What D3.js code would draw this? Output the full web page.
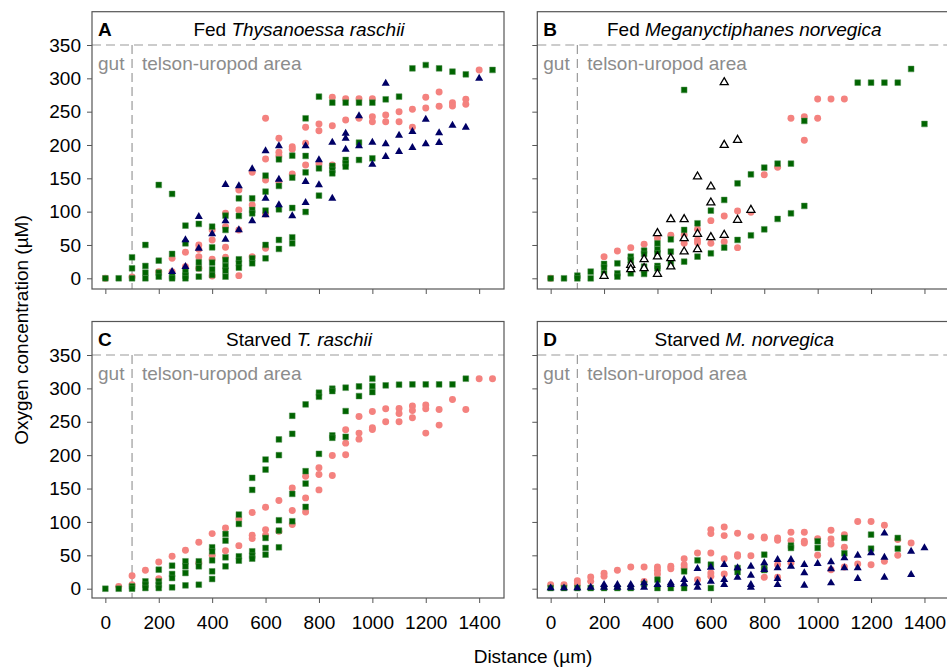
<!DOCTYPE html>
<html>
<head>
<meta charset="utf-8">
<script src="https://cdn.jsdelivr.net/npm/d3@7"></script>
<style>
  body { margin: 0; background: #fff; }
  text { font-family: "Liberation Sans", Arial, sans-serif; }
</style>
</head>
<body>
<svg id="chart" width="947" height="670"></svg>
<script>
// ---------------- DATA ----------------
const xTicks = [0, 200, 400, 600, 800, 1000, 1200, 1400];
const yTicks = [0, 50, 100, 150, 200, 250, 300, 350];
const gutBoundary = 100;
const surfaceLevel = 350;

// Panel A: Fed Thysanoessa raschii
const fedTrPink = [[0,0],[100,2],[200,10],[250,30],[250,10],[300,39],[300,17.5],[350,50],[350,43.5],[350,32.5],[350,15],[400,72.5],[400,57.5],[400,28.5],[400,3.5],[450,97.5],[450,77.5],[450,46.5],[450,31.5],[500,132.5],[500,102.5],[500,72.5],[500,4],[550,159],[550,110],[550,32.5],[600,240],[600,179],[600,147.5],[600,96.5],[600,45],[650,210],[650,189],[650,184],[650,145],[700,197.5],[700,193.5],[700,156.5],[750,226.5],[750,202.5],[750,170],[800,231.5],[800,221.5],[800,171.5],[850,271.5],[850,229],[850,170],[900,269.5],[900,237.5],[950,269.5],[950,240],[1000,269.5],[1000,242.5],[1000,235],[1050,245],[1050,235],[1100,250],[1100,235],[1150,253.5],[1150,226.5],[1200,271.5],[1200,255.5],[1250,279.5],[1250,258],[1300,263.5],[1300,258.5],[1350,268.5],[1350,261],[1400,312.5]];
const fedTrGreen = [[0,0],[50,0],[100,31.5],[100,15],[100,0],[150,50],[150,18.5],[150,8.5],[150,0],[200,140],[200,26.5],[200,8.5],[200,2.5],[250,126.5],[250,36.5],[250,2.5],[250,0],[300,79],[300,52.5],[300,10],[300,4],[300,0],[350,81.5],[350,24],[350,15],[350,2.5],[400,77.5],[400,46.5],[400,23.5],[400,13.5],[400,5],[450,94],[450,72.5],[450,27.5],[450,18.5],[450,11.5],[450,2.5],[500,120],[500,93.5],[500,28.5],[500,22.5],[500,16],[550,120],[550,102.5],[550,97.5],[550,30],[550,22.5],[600,154],[600,130],[600,101.5],[600,50],[600,30],[650,178.5],[650,138.5],[650,103.5],[650,57.5],[650,44],[700,184],[700,151],[700,105.5],[700,61.5],[700,52.5],[750,240],[750,183.5],[750,159],[750,99.5],[800,272.5],[800,165],[800,124],[850,263.5],[850,168.5],[850,162.5],[850,157.5],[900,263.5],[900,177.5],[900,172.5],[900,167.5],[950,263.5],[950,203.5],[950,177.5],[1000,263.5],[1000,180],[1050,268.5],[1100,272.5],[1150,315],[1200,320],[1250,315],[1300,310],[1350,306],[1450,312.5]];
const fedTrNavy = [[250,10],[300,57.5],[300,17.5],[350,92.5],[350,45],[400,66.5],[450,140.5],[450,86],[450,58.5],[500,138.5],[500,72.5],[550,164],[550,86],[600,191],[600,120],[600,95],[650,198.5],[650,148.5],[650,110],[700,93.5],[750,198.5],[750,145],[750,113.5],[800,177.5],[800,140],[850,204],[850,120],[900,217.5],[900,210],[900,193.5],[950,243.5],[950,198.5],[1000,204],[1000,171],[1050,292.5],[1050,201.5],[1050,182.5],[1100,214.5],[1100,190],[1150,220],[1150,196],[1200,238.5],[1200,201.5],[1250,218],[1250,203.5],[1300,229.5],[1350,226.5],[1400,300]];

// Panel B: Fed Meganyctiphanes norvegica
const fedMnPink = [[0,0],[200,32.5],[250,41],[300,46],[350,51],[400,60],[450,64.5],[500,65],[500,52.5],[550,73.5],[550,57.5],[550,53.5],[600,86.5],[600,52.5],[650,93.5],[650,55],[700,101],[700,46],[750,99],[800,155.5],[850,166.5],[900,240],[950,242.5],[950,207],[1000,269],[1000,240],[1050,269],[1100,269]];
const fedMnGreen = [[0,0],[50,0],[100,4],[100,0],[150,10],[150,0],[200,21.5],[200,16.5],[200,7.5],[250,22.5],[250,7.5],[250,2.5],[300,32.5],[300,27.5],[300,20],[300,15],[300,7.5],[350,41.5],[350,36.5],[350,17.5],[350,12.5],[350,6.5],[400,52.5],[400,43.5],[400,37.5],[400,18.5],[400,15],[450,58.5],[450,40],[450,22.5],[500,282.5],[500,72.5],[500,25],[550,82.5],[550,32.5],[600,101.5],[600,37.5],[650,117.5],[650,46],[700,142.5],[700,57.5],[750,156],[750,64.5],[800,166],[800,73.5],[850,172],[850,89],[900,172],[900,97.5],[950,236],[950,108.5],[1150,293.5],[1200,293.5],[1250,293.5],[1300,293.5],[1350,314],[1400,231.5]];
const fedMnOpen = [[200,3.5],[300,20],[300,13.5],[350,28.5],[350,15],[400,67.5],[400,32.5],[400,6.5],[450,88.5],[450,30],[450,17.5],[500,88.5],[500,60],[500,40],[550,152.5],[550,66.5],[550,43.5],[600,137.5],[600,113.5],[600,61.5],[650,294],[650,200],[650,65],[700,207.5],[700,87.5],[750,102.5]];

// Panel C: Starved T. raschii
const stTrPink = [[50,3.5],[100,19.5],[100,6],[150,27.5],[200,40],[200,15],[250,48.5],[300,57.5],[350,69.5],[350,38.5],[400,82.5],[400,50],[450,91],[450,57],[500,104.5],[500,64.5],[550,114],[550,80],[550,75],[600,122],[600,88.5],[600,80],[650,132],[650,86],[700,151],[700,117],[700,96],[750,168.5],[750,136],[750,115],[800,181],[800,171],[800,148],[850,199.5],[850,169.5],[900,238],[900,218],[900,200.5],[950,258],[950,233],[950,224],[1000,265.5],[1000,241],[1000,238.5],[1050,269.5],[1050,250],[1100,270],[1100,262.5],[1100,250],[1150,273.5],[1150,267],[1150,256],[1200,275],[1200,269.5],[1200,233],[1250,268.5],[1250,245],[1300,283.5],[1350,268.5],[1400,314.5],[1450,314.5]];
const stTrGreen = [[0,0],[50,0],[100,3.5],[100,0],[150,11],[150,6],[150,1],[200,28.5],[200,11],[200,6],[200,1],[250,34.5],[250,22],[250,16],[250,2],[300,41],[300,33.5],[300,23.5],[300,5],[350,41],[350,33.5],[350,6],[400,62],[400,56],[400,42.5],[400,26],[400,14.5],[450,82],[450,72],[450,47],[450,33.5],[500,111],[500,97],[500,48.5],[500,42],[550,166],[550,148],[550,56],[550,49.5],[550,45],[600,193.5],[600,178.5],[600,76],[600,61],[600,51],[650,223.5],[650,200],[650,102.5],[650,87],[650,62],[700,259],[700,232],[700,142],[700,101],[750,276],[750,176],[750,157.5],[750,122.5],[800,293.5],[800,287.5],[800,202],[850,299.5],[850,296],[850,229.5],[850,226],[900,301],[900,266],[900,227.5],[950,303],[950,288.5],[1000,314.5],[1000,303.5],[1000,294.5],[1050,304.5],[1100,305.5],[1150,306],[1200,306],[1250,306],[1300,306],[1350,314.5]];

// Panel D: Starved M. norvegica
const stMnPink = [[0,6],[50,6],[100,12],[100,7],[150,17.5],[150,11],[200,23],[200,18.5],[250,27.5],[300,32.5],[350,32.5],[350,11],[400,32.5],[400,27.5],[400,22],[450,33.5],[450,30],[500,45],[500,36],[500,31],[550,53.5],[550,13.5],[600,88.5],[600,82.5],[600,53.5],[600,23.5],[600,18.5],[650,92.5],[650,79.5],[650,45],[650,22],[700,83],[700,51],[700,48.5],[750,78],[750,49.5],[800,77.5],[800,76],[800,17],[850,76],[850,72.5],[850,36],[850,17],[900,84.5],[900,72],[900,38.5],[950,84.5],[950,71],[950,68.5],[1000,75],[1000,50],[1050,87.5],[1050,74.5],[1050,67],[1050,28.5],[1100,81],[1100,62],[1100,32.5],[1150,100.5],[1150,37],[1200,100.5],[1200,36],[1250,95],[1250,41],[1300,73.5],[1300,50],[1350,68.5]];
const stMnGreen = [[0,1],[50,1],[100,1],[150,1],[200,1],[250,1],[300,1],[350,7],[400,13.5],[400,1],[450,1],[500,26],[500,1],[550,42.5],[600,36],[600,1],[700,31],[700,25],[800,51],[800,31],[800,28],[900,64.5],[900,61],[1000,71],[1000,61],[1100,76],[1100,53],[1200,81],[1200,60],[1300,76],[1300,60]];
const stMnNavy = [[0,1],[50,1],[100,1],[150,2],[200,6],[200,2],[250,6],[250,2],[300,6],[300,2],[350,8.5],[350,2],[400,6],[450,8.5],[450,6],[500,13.5],[500,7],[550,30],[550,8.5],[550,2],[600,32],[600,11],[650,36],[650,13.5],[650,6],[700,31],[700,17],[750,33.5],[750,20],[750,6],[750,2],[800,38.5],[800,28.5],[850,43.5],[850,31],[850,15],[850,6],[900,43.5],[900,33.5],[950,36],[950,23.5],[950,5],[1000,37.5],[1050,40],[1050,29.5],[1050,8.5],[1100,46],[1100,31],[1150,50],[1150,31],[1150,15],[1200,53.5],[1250,83],[1250,47],[1250,17],[1350,56],[1350,21],[1400,61]];

// ---------------- LAYOUT / STYLE ----------------
const svg = d3.select("#chart");
const FONT = 19;
const panelW = 412;
const markStyles = {
  pink:  { type: "circle", fill: "#F4827F" },
  green: { type: "square", fill: "#006400" },
  navy:  { type: "triangle", fill: "#000066" },
  open:  { type: "opentri", fill: "#ffffff" }
};

const panels = [
  { letter: "A", left: 92,    top: 11.7,  bottom: 289, y0: 278.3, y350: 45,
    normal: "Fed ", italic: "Thysanoessa raschii", yLabels: true, xLabels: false,
    series: [["pink", fedTrPink], ["green", fedTrGreen], ["navy", fedTrNavy]] },
  { letter: "B", left: 537.3, top: 11.7,  bottom: 289, y0: 278.3, y350: 45,
    normal: "Fed ", italic: "Meganyctiphanes norvegica", yLabels: false, xLabels: false,
    series: [["pink", fedMnPink], ["green", fedMnGreen], ["open", fedMnOpen]] },
  { letter: "C", left: 92,    top: 321.5, bottom: 598, y0: 588.7, y350: 355,
    normal: "Starved ", italic: "T. raschii", yLabels: true, xLabels: true,
    series: [["pink", stTrPink], ["green", stTrGreen]] },
  { letter: "D", left: 537.3, top: 321.5, bottom: 598, y0: 588.7, y350: 355,
    normal: "Starved ", italic: "M. norvegica", yLabels: false, xLabels: true,
    series: [["pink", stMnPink], ["green", stMnGreen], ["navy", stMnNavy]] }
];

panels.forEach(p => {
  const x = d3.scaleLinear().domain([-50, 1493]).range([p.left, p.left + panelW]);
  const y = d3.scaleLinear().domain([0, 350]).range([p.y0, p.y350]);
  const g = svg.append("g");

  // dashed reference lines
  g.append("line")
    .attr("x1", p.left).attr("x2", p.left + panelW)
    .attr("y1", y(surfaceLevel)).attr("y2", y(surfaceLevel))
    .attr("stroke", "#9a9a9a").attr("stroke-width", 1.2).attr("stroke-dasharray", "9,5");
  g.append("line")
    .attr("x1", x(gutBoundary)).attr("x2", x(gutBoundary))
    .attr("y1", y(surfaceLevel)).attr("y2", p.bottom)
    .attr("stroke", "#9a9a9a").attr("stroke-width", 1.2).attr("stroke-dasharray", "9,5");

  // region labels
  g.append("text").attr("x", p.left + 6).attr("y", y(surfaceLevel) + 25)
    .attr("font-size", FONT).attr("fill", "#8c8c8c").text("gut");
  g.append("text").attr("x", p.left + 50).attr("y", y(surfaceLevel) + 25)
    .attr("font-size", FONT).attr("fill", "#8c8c8c").text("telson-uropod area");

  // points
  const clipId = "clip" + p.letter;
  svg.append("clipPath").attr("id", clipId).append("rect")
    .attr("x", p.left).attr("y", p.top).attr("width", panelW).attr("height", p.bottom - p.top);
  const pts = g.append("g").attr("clip-path", `url(#${clipId})`);
  p.series.forEach(([key, data]) => {
    const st = markStyles[key];
    const sel = pts.append("g").selectAll("path").data(data).join("path")
      .attr("transform", d => `translate(${x(d[0])},${y(d[1])})`);
    if (st.type === "circle") {
      sel.attr("d", d3.symbol(d3.symbolCircle, 38)()).attr("fill", st.fill);
    } else if (st.type === "square") {
      sel.attr("d", d3.symbol(d3.symbolSquare, 33)()).attr("fill", st.fill)
        .attr("stroke", "#4c8c4c").attr("stroke-width", 0.5);
    } else if (st.type === "triangle") {
      sel.attr("d", d3.symbol(d3.symbolTriangle, 28)()).attr("fill", st.fill);
    } else {
      sel.attr("d", d3.symbol(d3.symbolTriangle, 28)()).attr("fill", st.fill)
        .attr("stroke", "#000").attr("stroke-width", 1.3);
    }
  });

  // frame
  g.append("rect").attr("x", p.left).attr("y", p.top)
    .attr("width", panelW).attr("height", p.bottom - p.top)
    .attr("fill", "none").attr("stroke", "#555").attr("stroke-width", 1.2);

  // title
  g.append("text").attr("x", p.left + 6).attr("y", p.top + 24.5)
    .attr("font-size", FONT).attr("font-weight", "bold").attr("fill", "#000").text(p.letter);
  const t = g.append("text").attr("x", p.left + panelW / 2 + 1).attr("y", p.top + 24.5)
    .attr("font-size", FONT).attr("text-anchor", "middle").attr("fill", "#000");
  t.append("tspan").text(p.normal);
  t.append("tspan").attr("font-style", "italic").text(p.italic);

  // y axis
  const yAxis = d3.axisLeft(y).tickValues(yTicks).tickSize(5).tickPadding(6)
    .tickFormat(p.yLabels ? d3.format("d") : () => "");
  const ya = g.append("g").attr("transform", `translate(${p.left},0)`).call(yAxis);
  ya.select(".domain").remove();
  ya.selectAll(".tick line").attr("stroke", "#555");
  ya.selectAll(".tick text").attr("font-size", FONT).attr("fill", "#000")
    .attr("font-family", "Liberation Sans, Arial, sans-serif");

  // x axis
  const xAxis = d3.axisBottom(x).tickValues(xTicks).tickSize(5).tickPadding(13)
    .tickFormat(p.xLabels ? d3.format("d") : () => "");
  const xa = g.append("g").attr("transform", `translate(0,${p.bottom})`).call(xAxis);
  xa.select(".domain").remove();
  xa.selectAll(".tick line").attr("stroke", "#555");
  xa.selectAll(".tick text").attr("font-size", FONT).attr("fill", "#000")
    .attr("font-family", "Liberation Sans, Arial, sans-serif");
});

// axis titles
svg.append("text").attr("x", 533).attr("y", 663).attr("text-anchor", "middle")
  .attr("font-size", FONT).attr("fill", "#000").text("Distance (µm)");
svg.append("text").attr("transform", "translate(28,330) rotate(-90)")
  .attr("text-anchor", "middle").attr("font-size", FONT).attr("fill", "#000")
  .text("Oxygen concentration (µM)");
</script>
</body>
</html>
